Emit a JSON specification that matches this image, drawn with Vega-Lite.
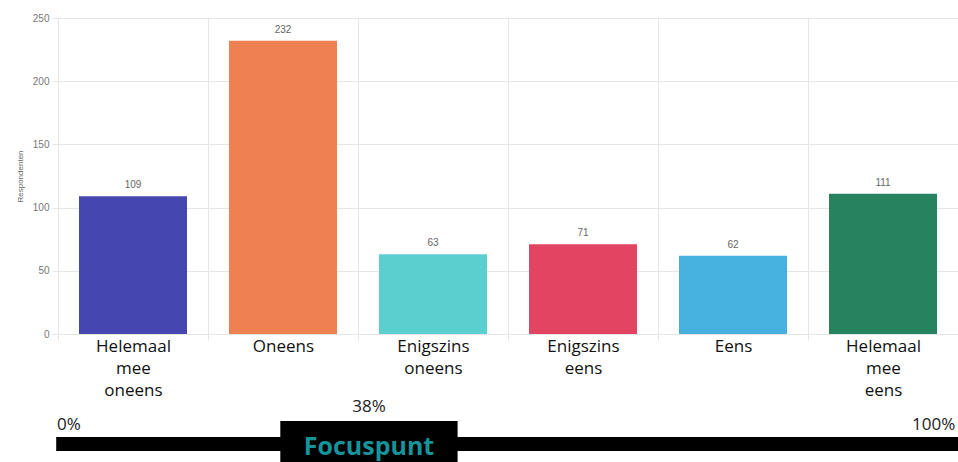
{
  "$schema": "https://vega.github.io/schema/vega-lite/v6.json",
  "padding": {"left": 16, "top": 13, "right": 0, "bottom": 0},
  "spacing": 0,
  "config": {"view": {"stroke": null}, "font": "Open Sans"},
  "vconcat": [
    {
      "width": 900,
      "height": 316,
      "data": {"values": [
        {"cat": "Helemaal mee oneens", "n": 109},
        {"cat": "Oneens", "n": 232},
        {"cat": "Enigszins oneens", "n": 63},
        {"cat": "Enigszins eens", "n": 71},
        {"cat": "Eens", "n": 62},
        {"cat": "Helemaal mee eens", "n": 111}
      ]},
      "encoding": {
        "x": {
          "field": "cat", "type": "nominal", "sort": null,
          "scale": {"paddingInner": 0, "paddingOuter": 0},
          "axis": {
            "title": null, "labelAngle": 0, "labelExpr": "split(datum.label, ' ')",
            "labelFont": "Open Sans", "labelFontSize": 17, "labelColor": "#111", "labelLineHeight": 22,
            "labelPadding": -2, "domain": false, "tickBand": "extent", "ticks": true, "tickSize": 6,
            "tickColor": "#e6e6e6", "grid": true, "gridColor": "#e6e6e6"
          }
        },
        "y": {
          "field": "n", "type": "quantitative",
          "scale": {"domain": [0, 250], "nice": false},
          "axis": {
            "title": "Respondenten", "titleFontSize": 8, "titleFont": "Liberation Sans", "titleFontWeight": "normal",
            "titleColor": "#666", "titlePadding": 8, "values": [0, 50, 100, 150, 200, 250],
            "labelFont": "Liberation Sans", "labelFontSize": 10, "labelColor": "#777", "domain": false,
            "tickColor": "#e6e6e6", "tickSize": 6, "gridColor": "#e6e6e6", "labelPadding": 3
          }
        }
      },
      "layer": [
        {
          "mark": {"type": "bar", "width": {"band": 0.72}},
          "encoding": {
            "color": {
              "field": "cat", "type": "nominal", "sort": null, "legend": null,
              "scale": {
                "domain": ["Helemaal mee oneens", "Oneens", "Enigszins oneens", "Enigszins eens", "Eens", "Helemaal mee eens"],
                "range": ["#4646b0", "#ee8152", "#5bcfd0", "#e24562", "#46b0de", "#278260"]
              }
            }
          }
        },
        {
          "mark": {"type": "text", "dy": -11, "fontSize": 10, "font": "Liberation Sans", "color": "#666"},
          "encoding": {"text": {"field": "n", "type": "quantitative"}}
        }
      ]
    },
    {
      "width": 900,
      "height": 62,
      "layer": [
        {
          "data": {"values": [
            {"part": "line", "x": -0.2, "x2": 100, "y": 37, "y2": 51},
            {"part": "box", "x": 24.7, "x2": 44.4, "y": 21, "y2": 62}
          ]},
          "mark": {"type": "rect", "color": "#000"},
          "encoding": {
            "x": {"field": "x", "type": "quantitative", "scale": {"domain": [0, 100], "nice": false}, "axis": null},
            "x2": {"field": "x2"},
            "y": {"field": "y", "type": "quantitative", "scale": {"domain": [0, 62], "nice": false, "reverse": true}, "axis": null},
            "y2": {"field": "y2"}
          }
        },
        {
          "data": {"values": [{"label": "Focuspunt", "x": 34.55, "y": 55}]},
          "mark": {"type": "text", "font": "Open Sans", "fontWeight": "bold", "fontSize": 25, "color": "#16949b", "baseline": "alphabetic"},
          "encoding": {
            "x": {"field": "x", "type": "quantitative"},
            "y": {"field": "y", "type": "quantitative"},
            "text": {"field": "label"}
          }
        },
        {
          "data": {"values": [{"label": "38%", "x": 34.55, "y": 7}]},
          "mark": {"type": "text", "font": "Open Sans", "fontSize": 17, "color": "#222", "baseline": "middle"},
          "encoding": {
            "x": {"field": "x", "type": "quantitative"},
            "y": {"field": "y", "type": "quantitative"},
            "text": {"field": "label"}
          }
        },
        {
          "data": {"values": [{"label": "0%", "x": -0.1, "y": 25}]},
          "mark": {"type": "text", "font": "Open Sans", "fontSize": 17, "color": "#222", "baseline": "middle", "align": "left"},
          "encoding": {
            "x": {"field": "x", "type": "quantitative"},
            "y": {"field": "y", "type": "quantitative"},
            "text": {"field": "label"}
          }
        },
        {
          "data": {"values": [{"label": "100%", "x": 99.7, "y": 25}]},
          "mark": {"type": "text", "font": "Open Sans", "fontSize": 17, "color": "#222", "baseline": "middle", "align": "right"},
          "encoding": {
            "x": {"field": "x", "type": "quantitative"},
            "y": {"field": "y", "type": "quantitative"},
            "text": {"field": "label"}
          }
        }
      ]
    }
  ]
}
